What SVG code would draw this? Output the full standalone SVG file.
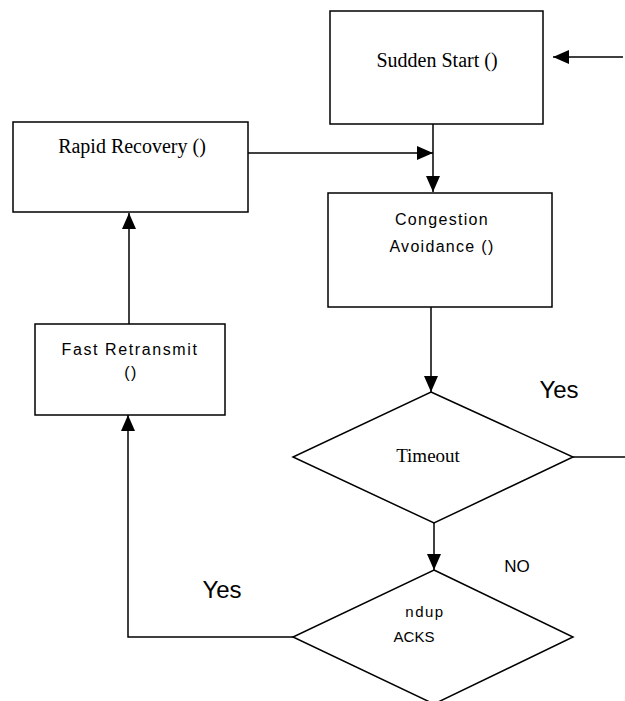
<svg xmlns="http://www.w3.org/2000/svg" width="625" height="701" viewBox="0 0 625 701">
<defs>
<marker id="ah" viewBox="0 0 10 10" refX="10" refY="5" markerWidth="16" markerHeight="14" markerUnits="userSpaceOnUse" orient="auto" preserveAspectRatio="none">
<path d="M0,0 L10,5 L0,10 z" fill="#000"/>
</marker>
<style>
.box{fill:#fff;stroke:#000;stroke-width:1.5}
.ln{fill:none;stroke:#000;stroke-width:1.5}
.ser{font-family:"Liberation Serif",serif;font-size:20px;fill:#000;text-anchor:middle}
.san{font-family:"Liberation Sans",Arial,sans-serif;font-size:16px;fill:#000;text-anchor:middle;letter-spacing:1.3px}
.big{font-family:"Liberation Sans",Arial,sans-serif;font-size:24px;fill:#000;text-anchor:middle}
</style>
</defs>
<g id="connectors">
<line class="ln" x1="623" y1="57" x2="553" y2="57" marker-end="url(#ah)"/>
<line class="ln" x1="433" y1="124" x2="433" y2="192" marker-end="url(#ah)"/>
<line class="ln" x1="247" y1="153" x2="433" y2="153" marker-end="url(#ah)"/>
<line class="ln" x1="431" y1="307" x2="431" y2="392" marker-end="url(#ah)"/>
<line class="ln" x1="573" y1="457" x2="625" y2="457"/>
<line class="ln" x1="434" y1="523" x2="434" y2="570" marker-end="url(#ah)"/>
<polyline class="ln" points="293,637 128,637 128,415" marker-end="url(#ah)"/>
<line class="ln" x1="129" y1="324" x2="129" y2="213" marker-end="url(#ah)"/>
</g>
<g id="sudden-start">
<rect class="box" x="330" y="11" width="213" height="113"/>
<text class="ser" x="437" y="67">Sudden Start ()</text>
</g>
<g id="rapid-recovery">
<rect class="box" x="13" y="122" width="235" height="90"/>
<text class="ser" x="132" y="153">Rapid Recovery ()</text>
</g>
<g id="congestion-avoidance">
<rect class="box" x="328" y="193" width="224" height="114"/>
<text class="san" x="442" y="225">Congestion</text>
<text class="san" x="442" y="252">Avoidance ()</text>
</g>
<g id="fast-retransmit">
<rect class="box" x="35" y="324" width="190" height="91"/>
<text class="san" x="130" y="355" style="letter-spacing:1.6px">Fast Retransmit</text>
<text class="san" x="131" y="378">()</text>
</g>
<g id="timeout">
<polygon class="box" points="431,392 573,457 434,523 293,457"/>
<text class="ser" x="428" y="462" style="font-size:19px">Timeout</text>
</g>
<g id="ndup-acks">
<polygon class="box" points="434,570 573,637 434,704 293,637"/>
<text class="san" x="425" y="617" style="font-size:15px;letter-spacing:1.5px">ndup</text>
<text class="san" x="414" y="642" style="font-size:15px;letter-spacing:0">ACKS</text>
</g>
<g id="labels">
<text class="big" x="559" y="398">Yes</text>
<text class="san" x="517" y="572" style="font-size:17px;letter-spacing:0">NO</text>
<text class="big" x="222" y="598">Yes</text>
</g>
</svg>
